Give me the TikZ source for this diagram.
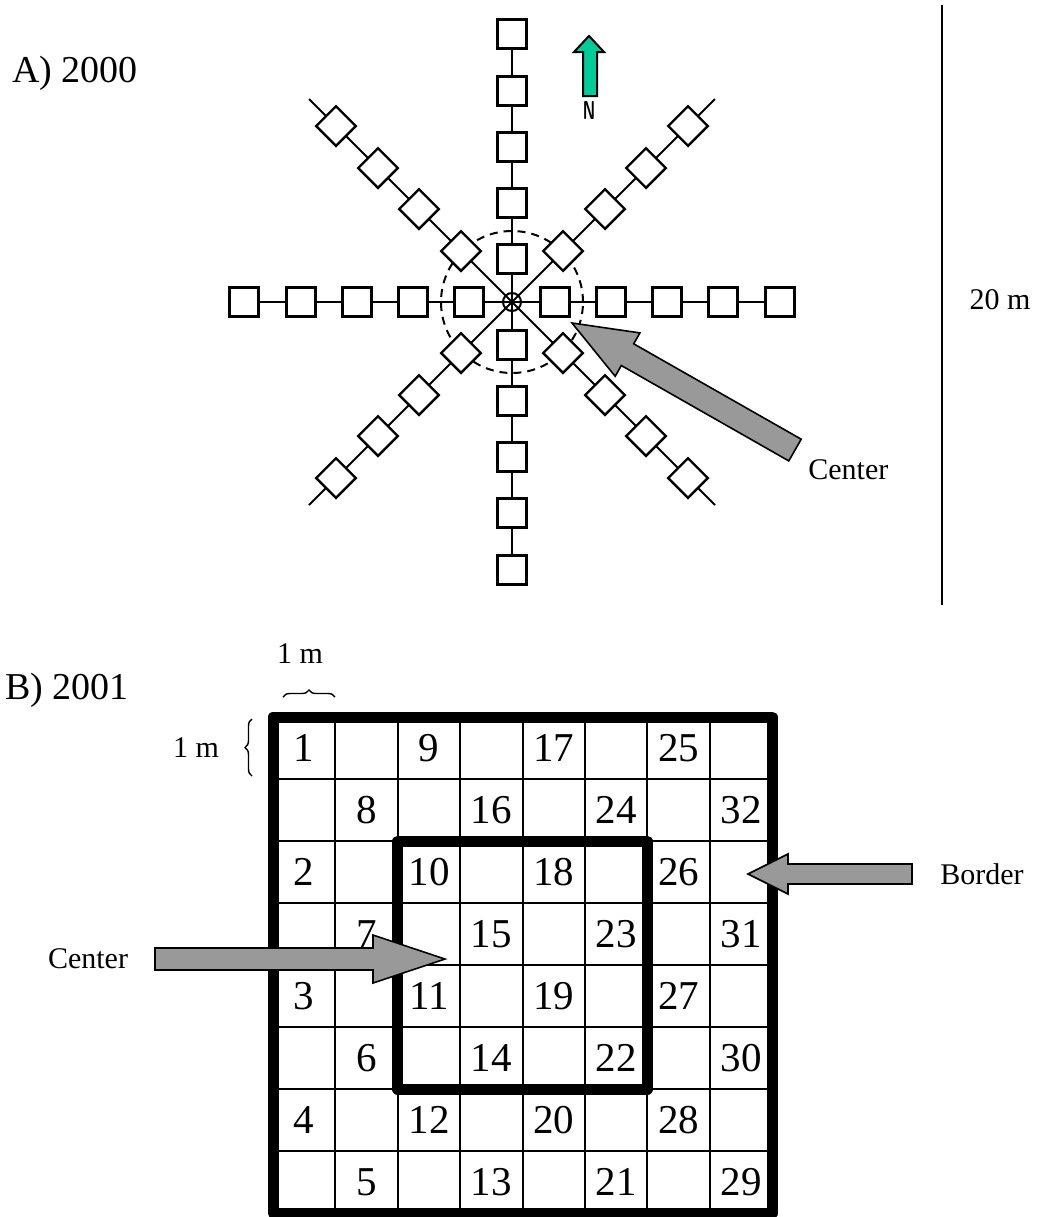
\documentclass[tikz,border=0pt]{standalone}
\usepackage{fontspec}
\setmainfont{Liberation Serif}
\usetikzlibrary{backgrounds,decorations.pathreplacing}
\definecolor{arrowgray}{RGB}{153,153,153}
\definecolor{northgreen}{RGB}{0,204,153}
\begin{document}
\begin{tikzpicture}[x=0.5pt, y=-0.5pt,
    plotsq/.style={draw, fill=white, line width=1.2pt, minimum size=14.5pt, inner sep=0pt},
    plotdia/.style={plotsq, minimum size=14pt, rotate=45},
    arm/.style={line width=1pt},
    tag/.style={font=\fontsize{15}{18}\selectfont, inner sep=0pt},
    yeartag/.style={font=\fontsize{19}{22}\selectfont, inner sep=0pt},
    cellnum/.style={font=\fontsize{20.5}{24}\selectfont, inner sep=0pt},
    gridline/.style={line width=1pt},
    thickbox/.style={line width=5.5pt, line join=round},
    blockarrow/.style={draw, fill=arrowgray, line width=0.8pt, line join=miter},
    onebrace/.style={decorate, decoration={brace, amplitude=3.5pt}, line width=0.7pt}]
\useasboundingbox (0,0) rectangle (1039,1217);

% A) 2000
\node[yeartag] (yearA) at (75,73) {A) 2000};
\begin{scope}[shift={(512,302)}]
  \node[draw, circle, minimum size=9pt, inner sep=0pt, line width=1pt] (ctr) at (0,0) {};
  \foreach \dir/\sx/\sy in {e/1/0, w/-1/0, s/0/1, n/0/-1}
    \foreach \d [count=\i] in {43,99,155,211,268}
      \node[plotsq] (\dir\i) at (\sx*\d, \sy*\d) {};
  \foreach \dir/\sx/\sy in {ne/1/-1, nw/-1/-1, se/1/1, sw/-1/1} {
    \foreach \d [count=\i] in {51,93,134,176}
      \node[plotdia] (\dir\i) at (\sx*\d, \sy*\d) {};
    \coordinate (\dir-end) at (\sx*203, \sy*203);
  }
\end{scope}
\begin{scope}[on background layer]
  \draw[arm] (w5.center) -- (e5.center);
  \draw[arm] (n5.center) -- (s5.center);
  \draw[arm] (nw-end) -- (se-end);
  \draw[arm] (ne-end) -- (sw-end);
  \draw[dash pattern=on 4pt off 3pt, line width=1pt] (ctr.center) circle[radius=35.5pt];
\end{scope}

% north arrow
\draw[fill=northgreen, line width=1pt] (589,36) -- (604,52) -- (597,52) -- (597,96) -- (583,96) -- (583,52) -- (574,52) -- cycle;
\node[font=\sffamily\bfseries\fontsize{13}{13}\selectfont, inner sep=0pt] (north) at (589,110) {\scalebox{0.6}[1]{N}};

\coordinate (scaletop) at (942,5);
\coordinate (scalebot) at (942,605);
\draw[line width=1pt] (scaletop) -- (scalebot);
\node[tag] (twenty) at (1000,300) {20 m};

\draw[blockarrow] (572,323) -- (639.9,332.9) -- (633.7,343.8) -- (801.2,439.2) -- (788.8,460.9) -- (621.3,365.5) -- (615.2,376.3) -- cycle;
\node[tag, anchor=west] (centerA) at (808,470) {Center};

% B) 2001
\node[yeartag] (yearB) at (67,690) {B) 2001};
\node[tag] (widthtag) at (300,654) {1 m};
\node[tag] (heighttag) at (196,748) {1 m};
\draw[onebrace] (283,697) -- (335,697);
\draw[onebrace] (252,776) -- (252,719);

\foreach \i in {1,...,7} {
  \draw[gridline] (273+62.4*\i,717) -- (273+62.4*\i,1213);
  \draw[gridline] (273,717+62*\i) -- (772,717+62*\i);
}
\draw[thickbox] (273,717) rectangle (772,1213);
\draw[thickbox] (397.8,841) rectangle (647.4,1089);

\foreach \r in {1,...,8}
  \foreach \k in {0,...,3} {
    \pgfmathtruncatemacro\odd{mod(\r,2)}
    \pgfmathtruncatemacro\col{2*\k+2-\odd}
    \pgfmathtruncatemacro\num{8*\k+\odd*(\r+1)/2+(1-\odd)*(9-\r/2)}
    \node[cellnum] (q\num) at (273+62.4*\col-31.2, 717+62*\r-31) {\num};
  }

\draw[blockarrow] (748,874) -- (788,854) -- (788,864) -- (912,864) -- (912,884) -- (788,884) -- (788,894) -- cycle;
\node[tag] (bordertag) at (982,874) {Border};
\draw[blockarrow] (445,959) -- (373,935) -- (373,948) -- (155,948) -- (155,970) -- (373,970) -- (373,983) -- cycle;
\node[tag] (centerB) at (88,959) {Center};
\end{tikzpicture}
\end{document}
